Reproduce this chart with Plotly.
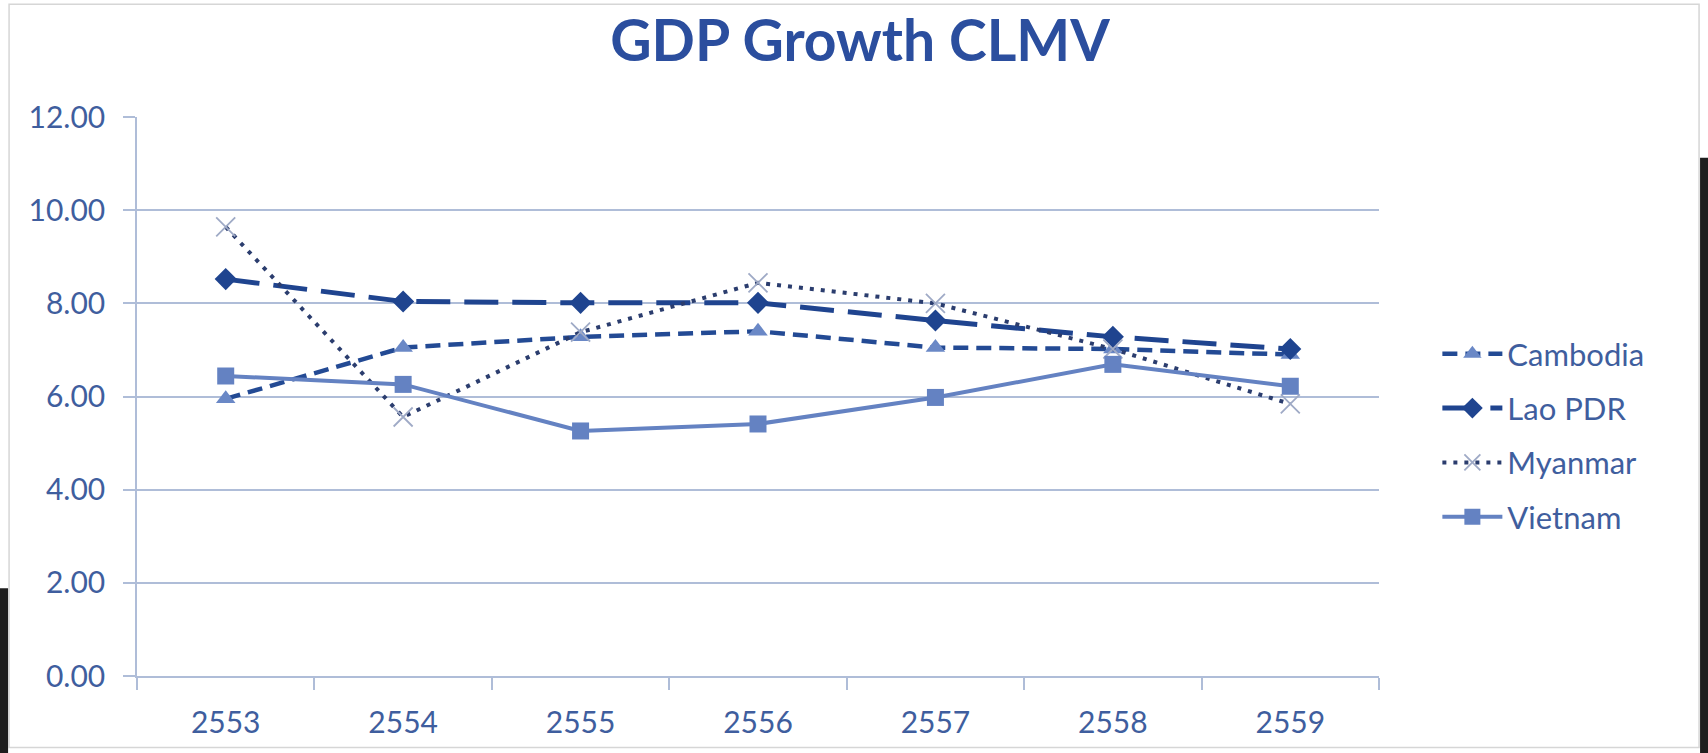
import plotly.graph_objects as go

# GDP growth (%) of the CLMV economies, Thai Buddhist-era years
years = ["2553", "2554", "2555", "2556", "2557", "2558", "2559"]
cambodia = [5.95, 7.05, 7.28, 7.40, 7.05, 7.02, 6.90]
lao_pdr = [8.52, 8.04, 8.01, 8.01, 7.63, 7.28, 7.02]
myanmar = [9.64, 5.56, 7.38, 8.44, 8.00, 7.02, 5.84]
vietnam = [6.44, 6.26, 5.26, 5.41, 5.98, 6.69, 6.22]
y_ticks = [0, 2, 4, 6, 8, 10, 12]

TEXT = "#3F5E9E"
GRID = "#AFBDD8"
FONT = "Lato, 'Open Sans', sans-serif"

fig = go.Figure()

fig.add_trace(go.Scatter(
    x=years, y=cambodia, name="Cambodia", mode="lines+markers",
    legendgroup="c",
    line=dict(color="#234A94", width=4.5, dash="15px,8px"),
    marker=dict(symbol="triangle-up", size=17, color="#6A88C6"),
))
fig.add_trace(go.Scatter(
    x=years, y=lao_pdr, name="Lao PDR", mode="lines+markers",
    legendgroup="l",
    line=dict(color="#1F448F", width=5, dash="34px,14px"),
    marker=dict(symbol="diamond", size=17, color="#1F448F"),
))
fig.add_trace(go.Scatter(
    x=years, y=myanmar, name="Myanmar", mode="lines+markers",
    legendgroup="m",
    line=dict(color="#2B3D6E", width=4, dash="4px,7px"),
    marker=dict(symbol="x-thin", size=19, color="#9FAAC6",
                line=dict(color="#9FAAC6", width=1.8)),
))
fig.add_trace(go.Scatter(
    x=years, y=vietnam, name="Vietnam", mode="lines+markers",
    legendgroup="v",
    line=dict(color="#6482C2", width=4),
    marker=dict(symbol="square", size=17, color="#6482C2"),
))

# frame border and dark edges around the chart box
shapes = [
    dict(type="rect", xref="paper", yref="paper",
         x0=-0.1030, x1=1.2577, y0=-0.128, y1=1.2018,
         line=dict(color="#D6D6D6", width=1.5), fillcolor="rgba(0,0,0,0)",
         layer="below"),
    dict(type="rect", xref="paper", yref="paper",
         x0=1.2585, x1=1.27, y0=-0.15, y1=0.927,
         line=dict(width=0), fillcolor="#1E1E1E"),
    dict(type="rect", xref="paper", yref="paper",
         x0=-0.12, x1=-0.1038, y0=-0.15, y1=0.157,
         line=dict(width=0), fillcolor="#1E1E1E"),
]

fig.update_layout(
    width=1708, height=753,
    margin=dict(l=137, r=329, t=117, b=77),
    paper_bgcolor="white", plot_bgcolor="white",
    font=dict(family=FONT, color=TEXT, size=29),
    title=dict(text="<b>GDP Growth CLMV</b>", x=0.5035, xanchor="center",
               y=0.945, yanchor="middle",
               font=dict(family=FONT, size=57, color="#2B4E9E")),
    showlegend=True,
    legend=dict(x=1.047, xanchor="left", y=0.43, yanchor="middle",
                font=dict(family=FONT, size=31, color=TEXT),
                tracegroupgap=11, itemwidth=60,
                bgcolor="rgba(0,0,0,0)"),
    shapes=shapes,
)

fig.update_xaxes(
    type="category", range=[-0.5, 6.5],
    showline=True, linecolor=GRID, linewidth=1.5,
    showgrid=False, tickson="boundaries",
    ticks="outside", ticklen=12, tickcolor=GRID, tickwidth=1.5,
    ticklabelstandoff=19,
    tickfont=dict(family=FONT, size=30, color=TEXT),
)
fig.update_yaxes(
    range=[0, 12], tickvals=y_ticks, tickformat=".2f",
    showline=True, linecolor=GRID, linewidth=1.5,
    showgrid=True, gridcolor=GRID, gridwidth=1.5,
    ticks="outside", ticklen=12, tickcolor=GRID, tickwidth=1.5,
    ticklabelstandoff=12, zeroline=False,
    tickfont=dict(family=FONT, size=30, color=TEXT),
)

fig.write_html("out.html")
